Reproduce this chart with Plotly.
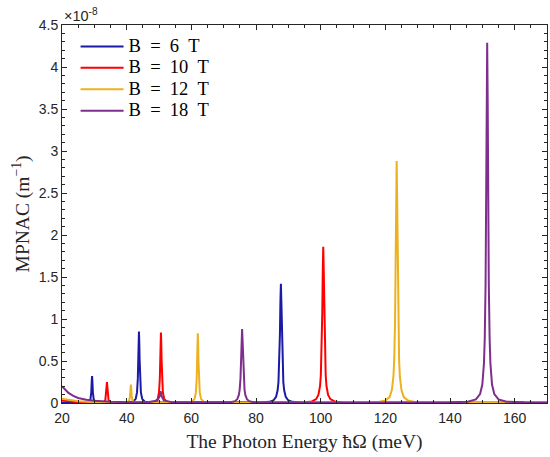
import plotly.graph_objects as go

# Photon energy (meV) and MPNAC values (in units of 1e-8 m^-1)
x_b6 = [20, 27, 28.3, 28.8, 29.05, 29.2, 29.3, 29.4, 29.55, 29.8, 30.3, 32,
        40, 42.0, 42.8, 43.2, 43.45, 43.6, 43.7, 43.8, 43.9, 44.0, 44.15, 44.4, 44.8, 45.6, 47.3, 60,
        81.7, 84.2, 85.5, 86.2, 86.7, 86.95, 87.2, 87.4, 87.55, 87.7, 87.85, 88.0, 88.2, 88.45, 88.7, 89.2,
        89.9, 91.2, 93.7, 110, 140, 170]
y_b6 = [0.004, 0.006, 0.012, 0.045, 0.125, 0.26, 0.32, 0.26, 0.125, 0.045, 0.012, 0.005,
        0.005, 0.016, 0.05, 0.126, 0.29, 0.52, 0.73, 0.85, 0.73, 0.52, 0.29, 0.126, 0.05, 0.016, 0.006, 0.003,
        0.005, 0.014, 0.035, 0.073, 0.155, 0.25, 0.47, 0.82, 1.2, 1.42, 1.2, 0.82, 0.47, 0.25, 0.155, 0.073,
        0.035, 0.014, 0.005, 0.003, 0.002, 0.002]

x_b10 = [20, 22, 25, 30, 32.9, 33.4, 33.65, 33.8, 33.9, 34.0, 34.15, 34.4, 34.9, 38,
         47.1, 48.8, 49.6, 50.0, 50.25, 50.4, 50.5, 50.6, 50.7, 50.8, 50.95, 51.2, 51.6, 52.4, 54.1, 70,
         94.8, 97.3, 98.6, 99.3, 99.8, 100.05, 100.3, 100.5, 100.65, 100.8, 100.95, 101.1, 101.3, 101.55,
         101.8, 102.3, 103.0, 104.3, 106.8, 130, 170]
y_b10 = [0.03, 0.02, 0.01, 0.005, 0.01, 0.035, 0.1, 0.2, 0.25, 0.2, 0.1, 0.035, 0.01, 0.004,
         0.004, 0.016, 0.05, 0.125, 0.285, 0.51, 0.72, 0.84, 0.72, 0.51, 0.285, 0.125, 0.05, 0.016, 0.004, 0.003,
         0.006, 0.018, 0.046, 0.096, 0.2, 0.33, 0.61, 1.07, 1.57, 1.86, 1.57, 1.07, 0.61, 0.33,
         0.2, 0.096, 0.046, 0.018, 0.006, 0.002, 0.001]

x_b12 = [20, 22, 25, 30, 35, 40.3, 40.8, 41.05, 41.2, 41.3, 41.4, 41.55, 41.8, 42.3, 46,
         58.5, 60.2, 61.0, 61.4, 61.65, 61.8, 61.9, 62.0, 62.1, 62.2, 62.35, 62.6, 63.0, 63.8, 65.5, 80,
         117.5, 120.0, 121.3, 122.0, 122.5, 122.75, 123.0, 123.2, 123.35, 123.5, 123.65, 123.8, 124.0, 124.25,
         124.5, 125.0, 125.7, 127.0, 129.5, 145, 170]
y_b12 = [0.05, 0.035, 0.02, 0.01, 0.005, 0.01, 0.03, 0.085, 0.18, 0.22, 0.18, 0.085, 0.03, 0.01, 0.004,
         0.004, 0.016, 0.05, 0.123, 0.28, 0.51, 0.72, 0.83, 0.72, 0.51, 0.28, 0.123, 0.05, 0.016, 0.004, 0.003,
         0.01, 0.029, 0.071, 0.15, 0.31, 0.52, 0.95, 1.66, 2.43, 2.88, 2.43, 1.66, 0.95, 0.52,
         0.31, 0.15, 0.071, 0.029, 0.01, 0.003, 0.002]

x_b18 = [20, 21, 22, 23.5, 25, 27.5, 30, 35, 40, 47, 49.5, 50.2, 50.5, 50.8, 51.5, 54,
         69.7, 72.2, 73.5, 74.2, 74.7, 74.95, 75.2, 75.4, 75.55, 75.7, 75.85, 76.0, 76.2, 76.45, 76.7, 77.2,
         77.9, 79.2, 81.7, 100,
         125, 140, 145.5, 148.0, 149.3, 150.0, 150.5, 150.75, 151.0, 151.2, 151.35, 151.5, 151.65, 151.8,
         152.0, 152.25, 152.5, 153.0, 153.7, 155.0, 157.5, 163, 170]
y_b18 = [0.2, 0.16, 0.12, 0.085, 0.06, 0.04, 0.028, 0.015, 0.01, 0.012, 0.03, 0.08, 0.14, 0.08, 0.03, 0.01,
         0.005, 0.009, 0.022, 0.045, 0.096, 0.16, 0.29, 0.51, 0.74, 0.88, 0.74, 0.51, 0.29, 0.16, 0.096, 0.045,
         0.022, 0.009, 0.005, 0.004,
         0.004, 0.008, 0.015, 0.042, 0.106, 0.22, 0.47, 0.77, 1.41, 2.47, 3.63, 4.29, 3.63, 2.47,
         1.41, 0.77, 0.47, 0.22, 0.106, 0.042, 0.015, 0.008, 0.006]

series_names = ["B\u2002=\u20026\u2002T", "B\u2002=\u200210\u2002T", "B\u2002=\u200212\u2002T", "B\u2002=\u200218\u2002T"]
series = [
    (series_names[0], x_b6, y_b6, "#1a1aa6"),
    (series_names[1], x_b10, y_b10, "#ff0000"),
    (series_names[2], x_b12, y_b12, "#edb120"),
    (series_names[3], x_b18, y_b18, "#7e2f8e"),
]

x_ticks = [20, 40, 60, 80, 100, 120, 140, 160]
y_ticks = [0, 0.5, 1, 1.5, 2, 2.5, 3, 3.5, 4, 4.5]
y_tick_labels = ["0", "0.5", "1", "1.5", "2", "2.5", "3", "3.5", "4", "4.5"]

fig = go.Figure()
for name, xs, ys, col in series:
    fig.add_trace(go.Scatter(x=xs, y=ys, mode="lines",
                             name='<span style="font-size:18.5px">' + name + '</span>',
                             line=dict(color=col, width=2)))

axis_common = dict(
    showline=True, linecolor="#262626", linewidth=1, mirror="allticks",
    ticks="inside", ticklen=5, tickcolor="#262626", showgrid=False, zeroline=False,
    automargin=False,
    tickfont=dict(family="Liberation Sans, Arial", size=14, color="#262626"),
)

serif = "Liberation Serif, DejaVu Serif"

fig.update_layout(
    width=550, height=457,
    margin=dict(l=62, r=3, t=25, b=54),
    paper_bgcolor="white", plot_bgcolor="white",
    showlegend=True,
    legend=dict(x=0.028, y=0.985, xanchor="left", yanchor="top",
                bgcolor="rgba(255,255,255,0)", borderwidth=0,
                font=dict(family=serif, size=14.2, color="#000000"),
                tracegroupgap=0, itemwidth=43),
    xaxis=dict(range=[20, 170], tickvals=x_ticks, ticklabelstandoff=2,
               minor=dict(dtick=5, ticks="inside", ticklen=3, tickcolor="#262626"),
               title=dict(text="The Photon Energy ħΩ (meV)", standoff=9,
                          font=dict(family=serif, size=19.5, color="#262626")),
               **axis_common),
    yaxis=dict(range=[0, 4.5], tickvals=y_ticks, ticktext=y_tick_labels,
               minor=dict(dtick=0.1, ticks="inside", ticklen=3, tickcolor="#262626"),
               title=dict(text="MPNAC (m<sup>−1</sup>)", standoff=3,
                          font=dict(family=serif, size=19.5, color="#262626")),
               **axis_common),
    annotations=[dict(text="×10<sup>-8</sup>", xref="paper", yref="paper", x=0, y=1,
                      xanchor="left", yanchor="bottom", showarrow=False, yshift=-1,
                      font=dict(family="Liberation Sans, Arial", size=14.5, color="#262626"))],
)

# remove the page's default body margin so the figure sits at the window's corner
fig.write_html("out.html", config={"displayModeBar": False},
               post_script="document.body.style.margin='0';")
